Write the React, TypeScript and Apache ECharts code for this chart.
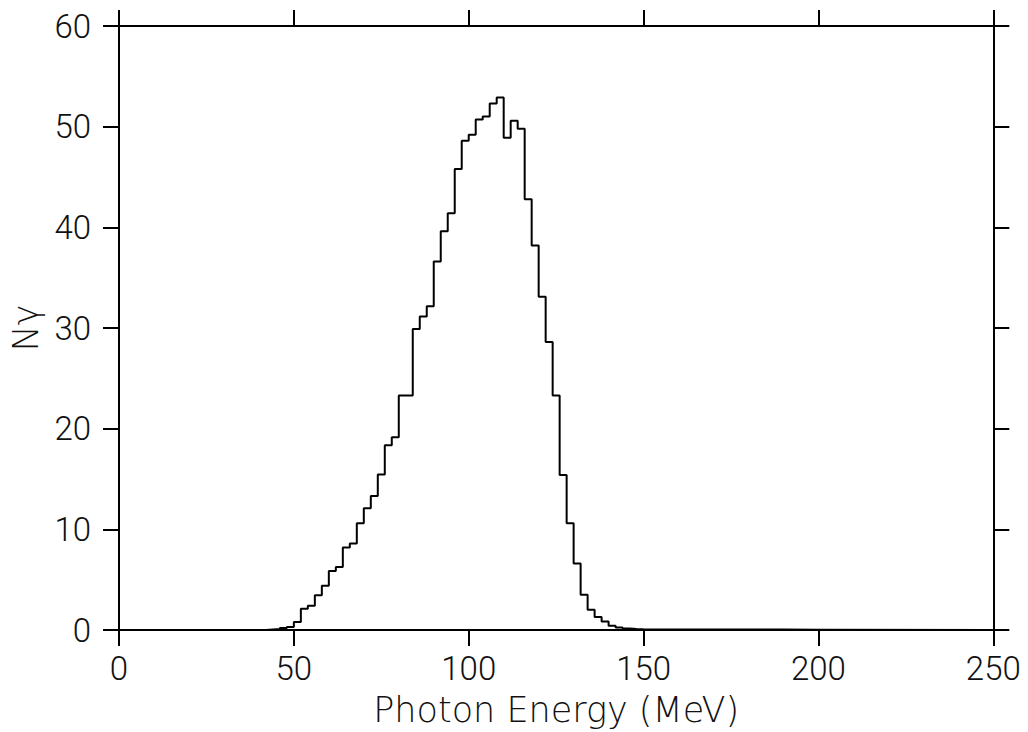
import React, { useEffect, useRef } from "react";
import * as echarts from "echarts";

// Histogram bins: left edge of each 2 MeV bin (MeV) and photon count
const binEdges = [
  0, 40, 42, 44, 46, 48, 50, 52, 54, 56, 58, 60, 62, 64, 66, 68, 70, 72, 74, 76, 78,
  80, 82, 84, 86, 88, 90, 92, 94, 96, 98, 100, 102, 104, 106, 108, 110, 112, 114,
  116, 118, 120, 122, 124, 126, 128, 130, 132, 134, 136, 138, 140, 142, 144, 146,
  148, 150, 154, 160, 170, 180, 190, 200, 250,
];
const counts = [
  0, 0, 0.05, 0.1, 0.2, 0.3, 0.8, 2.1, 2.4, 3.45, 4.4, 5.85, 6.25, 8.2, 8.6, 10.6, 12.1,
  13.3, 15.45, 18.35, 19.15, 23.3, 23.3, 29.9, 31.15, 32.15, 36.6, 39.6, 41.4, 45.8,
  48.6, 49.2, 50.7, 51.0, 52.3, 52.9, 48.9, 50.6, 49.8, 42.8, 38.2, 33.1, 28.6, 23.3,
  15.4, 10.6, 6.6, 3.5, 2.0, 1.3, 0.85, 0.42, 0.26, 0.15, 0.1, 0.08, 0.06, 0.05,
  0.04, 0.05, 0.04, 0.03, 0, 0,
];

const xTicks = [0, 50, 100, 150, 200, 250];
const yTicks = [0, 10, 20, 30, 40, 50, 60];
const xTitle = "Photon Energy (MeV)";
const yTitle = "Nγ";

const FONT = "Roboto";

export default function App() {
  const ref = useRef<HTMLDivElement>(null);
  useEffect(() => {
    if (!ref.current) return;
    const chart = echarts.init(ref.current, null, { renderer: "svg" });
    const axisLine = { show: true, onZero: false, lineStyle: { color: "#000", width: 2 } };
    const axisTick = { show: true, inside: false, length: 16, lineStyle: { color: "#000", width: 2 } };
    const labelStyle = {
      color: "#111",
      fontFamily: FONT,
      fontWeight: 300 as any,
      fontSize: 33,
    };
    const titleStyle = {
      color: "#111",
      fontFamily: "'DejaVu Sans', Roboto, sans-serif",
      fontWeight: 200 as any,
      fontSize: 35,
    };
    const xStep = xTicks[1] - xTicks[0];
    const yStep = yTicks[1] - yTicks[0];
    const xMin = xTicks[0];
    const xMax = xTicks[xTicks.length - 1];
    const yMin = yTicks[0];
    const yMax = yTicks[yTicks.length - 1];
    chart.setOption({
      animation: false,
      backgroundColor: "#fff",
      grid: { left: 117.5, right: 34.7, top: 26, bottom: 97.7, containLabel: false },
      xAxis: [
        {
          type: "value",
          position: "bottom",
          min: xMin,
          max: xMax,
          interval: xStep,
          axisLine,
          axisTick,
          splitLine: { show: false },
          axisLabel: { ...labelStyle, margin: 22 },
          name: xTitle,
          nameLocation: "middle",
          nameGap: 62,
          nameTextStyle: { ...titleStyle },
        },
        {
          type: "value",
          position: "top",
          min: xMin,
          max: xMax,
          interval: xStep,
          axisLine,
          axisTick,
          splitLine: { show: false },
          axisLabel: { show: false },
        },
      ],
      yAxis: [
        {
          type: "value",
          position: "left",
          min: yMin,
          max: yMax,
          interval: yStep,
          axisLine,
          axisTick,
          splitLine: { show: false },
          axisLabel: { ...labelStyle, margin: 28 },
          name: yTitle,
          nameLocation: "middle",
          nameGap: 76,
          nameRotate: 90,
          nameTextStyle: { ...titleStyle },
        },
        {
          type: "value",
          position: "right",
          min: yMin,
          max: yMax,
          interval: yStep,
          axisLine,
          axisTick,
          splitLine: { show: false },
          axisLabel: { show: false },
        },
      ],
      series: [
        {
          type: "line",
          step: "end",
          xAxisIndex: 0,
          yAxisIndex: 0,
          data: binEdges.map((e, i) => [e, counts[i]]),
          showSymbol: false,
          symbol: "none",
          lineStyle: { color: "#000", width: 2 },
        },
      ],
    });
    return () => chart.dispose();
  }, []);
  return (
    <div
      ref={ref}
      style={{ position: "fixed", left: 0, top: 0, width: 1028, height: 732, background: "#fff" }}
    />
  );
}
